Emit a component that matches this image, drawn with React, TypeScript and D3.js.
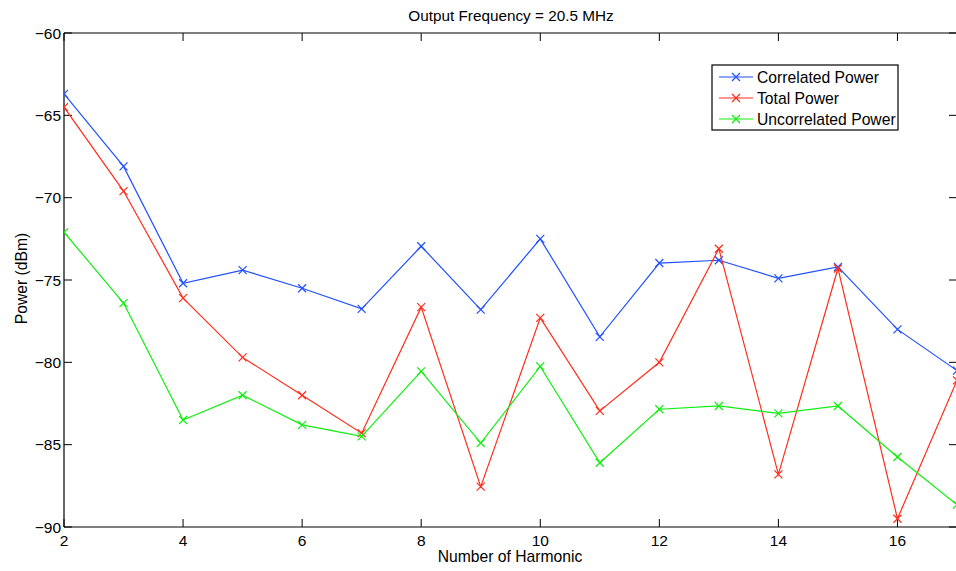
import React from "react";
import * as d3 from "d3";

const harmonics = [2, 3, 4, 5, 6, 7, 8, 9, 10, 11, 12, 13, 14, 15, 16, 17];
const correlatedPower = [-63.7, -68.1, -75.2, -74.4, -75.5, -76.75, -72.95, -76.8, -72.5, -78.45, -73.97, -73.8, -74.9, -74.2, -78.0, -80.5];
const totalPower = [-64.5, -69.6, -76.1, -79.7, -82.0, -84.3, -76.65, -87.55, -77.3, -82.95, -80.0, -73.1, -86.8, -74.3, -89.5, -81.1];
const uncorrelatedPower = [-72.1, -76.4, -83.5, -82.0, -83.8, -84.5, -80.55, -84.9, -80.25, -86.1, -82.85, -82.65, -83.1, -82.65, -85.75, -88.65];
const seriesNames = ["Correlated Power", "Total Power", "Uncorrelated Power"];
const seriesColors = ["#1f4fff", "#ff2d1a", "#10ee10"];
const xTicks = [2, 4, 6, 8, 10, 12, 14, 16];
const yTicks = [-60, -65, -70, -75, -80, -85, -90];

export default function App() {
  const W = 956, H = 571;
  const left = 64, top = 33, right = 957, bottom = 527;
  const x = d3.scaleLinear().domain([2, 17]).range([left, right]);
  const y = d3.scaleLinear().domain([-90, -60]).range([bottom, top]);
  const series = [correlatedPower, totalPower, uncorrelatedPower];
  const line = d3.line<number>().x((_, i) => x(harmonics[i])).y((d) => y(d));
  const font = "'Liberation Sans', Arial, Helvetica, sans-serif";
  const m = 4;
  const cross = (cx: number, cy: number, color: string, key: string) => (
    <path key={key} d={`M${cx - m},${cy - m}L${cx + m},${cy + m}M${cx - m},${cy + m}L${cx + m},${cy - m}`} stroke={color} strokeWidth={1.2} fill="none" />
  );
  const fmt = (v: number) => (v < 0 ? "\u2212" + Math.abs(v) : String(v));
  const legX = 712, legY = 65, legW = 186, legH = 65;
  return (
    <svg width={W} height={H} style={{ position: "absolute", left: 0, top: 0, background: "#fff" }} fontFamily={font}>
      <rect x={0} y={0} width={W} height={H} fill="#fff" />
      <defs>
        <clipPath id="plotclip">
          <rect x={left} y={top - 6} width={right - left} height={bottom - top + 12} />
        </clipPath>
      </defs>
      <line x1={left} y1={top} x2={right} y2={top} stroke="#000" strokeWidth={1.2} />
      <line x1={left} y1={bottom} x2={right} y2={bottom} stroke="#000" strokeWidth={1.2} />
      <line x1={left} y1={top} x2={left} y2={bottom} stroke="#000" strokeWidth={1.2} />
      <line x1={right} y1={top} x2={right} y2={bottom} stroke="#000" strokeWidth={1.2} />
      {xTicks.map((t) => (
        <g key={"xt" + t}>
          <line x1={x(t)} x2={x(t)} y1={bottom} y2={bottom - 8} stroke="#000" />
          <line x1={x(t)} x2={x(t)} y1={top} y2={top + 8} stroke="#000" />
          <text x={x(t)} y={546} textAnchor="middle" fontSize={15.5}>{t}</text>
        </g>
      ))}
      {yTicks.map((t) => (
        <g key={"yt" + t}>
          <line x1={left} x2={left + 8} y1={y(t)} y2={y(t)} stroke="#000" />
          <line x1={right - 8} x2={right} y1={y(t)} y2={y(t)} stroke="#000" />
          <text x={61} y={y(t) + 5.5} textAnchor="end" fontSize={15.5}>{fmt(t)}</text>
        </g>
      ))}
      <g clipPath="url(#plotclip)">
        {series.map((s, si) => (
          <g key={"s" + si}>
            <path d={line(s) || ""} fill="none" stroke={seriesColors[si]} strokeWidth={1.2} />
            {s.map((v, i) => cross(x(harmonics[i]), y(v), seriesColors[si], `m${si}-${i}`))}
          </g>
        ))}
      </g>
      <text x={511} y={20.5} textAnchor="middle" fontSize={15.3}>Output Frequency = 20.5 MHz</text>
      <text x={510} y={561.5} textAnchor="middle" fontSize={15.7}>Number of Harmonic</text>
      <text transform={`translate(27,278.5) rotate(-90)`} textAnchor="middle" fontSize={15.7}>Power (dBm)</text>
      <rect x={legX} y={legY} width={legW} height={legH} fill="#fff" stroke="#000" strokeWidth={1.2} />
      {seriesNames.map((n, i) => {
        const ly = 77 + i * 21;
        return (
          <g key={"lg" + i}>
            <line x1={719} x2={753} y1={ly} y2={ly} stroke={seriesColors[i]} strokeWidth={1.2} />
            {cross(736, ly, seriesColors[i], "lm" + i)}
            <text x={757} y={ly + 5.5} fontSize={15.7}>{n}</text>
          </g>
        );
      })}
    </svg>
  );
}
